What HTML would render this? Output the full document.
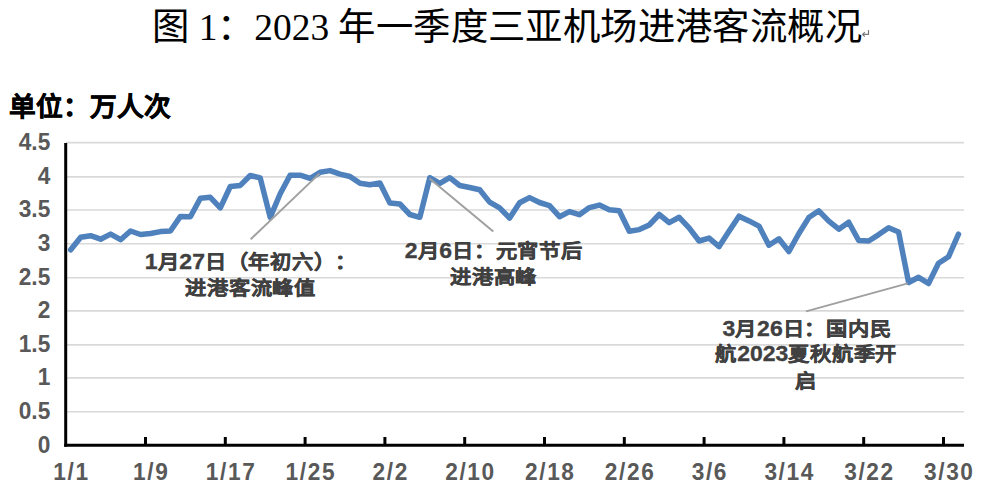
<!DOCTYPE html>
<html lang="zh-CN"><head><meta charset="utf-8">
<style>
html,body{margin:0;padding:0;background:#fff;}
body{width:988px;height:495px;overflow:hidden;position:relative;}
svg{position:absolute;left:0;top:0;}
.title{position:absolute;left:0;top:0;white-space:nowrap;font-family:"Liberation Serif",serif;font-size:37px;color:#000;}
</style></head><body>
<svg width="988" height="495" viewBox="0 0 988 495">
<g stroke="#D9D9D9" stroke-width="1.6"><line x1="66" y1="411.8" x2="964" y2="411.8"/><line x1="66" y1="377.9" x2="964" y2="377.9"/><line x1="66" y1="344.9" x2="964" y2="344.9"/><line x1="66" y1="310.9" x2="964" y2="310.9"/><line x1="66" y1="277.8" x2="964" y2="277.8"/><line x1="66" y1="243.8" x2="964" y2="243.8"/><line x1="66" y1="210.0" x2="964" y2="210.0"/><line x1="66" y1="176.9" x2="964" y2="176.9"/><line x1="66" y1="142.6" x2="964" y2="142.6"/></g>
<polyline points="70.7,249.8 80.7,237.2 90.6,235.7 100.6,239.2 110.6,234.1 120.6,239.7 130.5,231.0 140.5,234.5 150.5,233.5 160.5,231.6 170.4,231.0 180.4,216.4 190.4,216.7 200.4,198.3 210.3,197.3 220.3,207.8 230.3,186.5 240.3,185.4 250.2,175.5 260.2,177.9 270.2,217.4 280.2,193.8 290.1,175.3 300.1,175.2 310.1,178.3 320.1,172.3 330.0,170.6 340.0,174.1 350.0,176.5 360.0,183.3 369.9,184.7 379.9,183.0 389.9,203.1 399.9,204.0 409.8,214.5 419.8,217.3 429.8,177.7 439.8,183.3 449.7,177.7 459.7,185.5 469.7,187.5 479.7,189.8 489.6,202.1 499.6,207.9 509.6,218.1 519.6,202.8 529.5,197.6 539.5,202.5 549.5,205.6 559.5,216.7 569.4,211.6 579.4,214.7 589.4,207.6 599.4,205.1 609.3,209.8 619.3,210.7 629.3,231.3 639.3,229.6 649.2,225.0 659.2,214.5 669.2,222.6 679.2,217.3 689.1,227.8 699.1,241.0 709.1,238.1 719.1,246.6 729.0,231.3 739.0,216.2 749.0,220.9 759.0,226.1 768.9,245.2 778.9,238.8 788.9,251.5 798.9,233.5 808.8,217.6 818.8,210.8 828.8,221.2 838.8,229.2 848.7,222.2 858.7,240.5 868.7,241.0 878.7,234.6 888.6,227.8 898.6,232.0 908.6,282.5 918.6,277.3 928.5,283.5 938.5,263.3 948.5,256.8 958.5,234.2" fill="none" stroke="#4F81BD" stroke-width="5.5" stroke-linejoin="round" stroke-linecap="round"/>
<g stroke="#A0A0A0" stroke-width="2">
<line x1="250.7" y1="239.2" x2="319.4" y2="173.6"/>
<line x1="429.5" y1="178.4" x2="493.3" y2="231.5"/>
<line x1="806" y1="311.4" x2="907.8" y2="283.4"/>
</g>
<g stroke="#000" stroke-width="3">
<line x1="65.7" y1="143" x2="65.7" y2="446.8"/>
<line x1="64.2" y1="445.3" x2="964" y2="445.3"/>
<line x1="145.5" y1="437" x2="145.5" y2="445"/><line x1="225.3" y1="437" x2="225.3" y2="445"/><line x1="305.1" y1="437" x2="305.1" y2="445"/><line x1="384.9" y1="437" x2="384.9" y2="445"/><line x1="464.7" y1="437" x2="464.7" y2="445"/><line x1="544.5" y1="437" x2="544.5" y2="445"/><line x1="624.3" y1="437" x2="624.3" y2="445"/><line x1="704.1" y1="437" x2="704.1" y2="445"/><line x1="783.9" y1="437" x2="783.9" y2="445"/><line x1="863.7" y1="437" x2="863.7" y2="445"/><line x1="943.5" y1="437" x2="943.5" y2="445"/>
</g>
<g font-family="Liberation Sans, sans-serif" font-weight="bold" font-size="24" fill="#595959">
<g text-anchor="end"><text transform="translate(50.3,452.6) scale(0.946,1)">0</text><text transform="translate(50.3,419.1) scale(0.946,1)">0.5</text><text transform="translate(50.3,385.2) scale(0.946,1)">1</text><text transform="translate(50.3,352.2) scale(0.946,1)">1.5</text><text transform="translate(50.3,318.2) scale(0.946,1)">2</text><text transform="translate(50.3,285.1) scale(0.946,1)">2.5</text><text transform="translate(50.3,251.1) scale(0.946,1)">3</text><text transform="translate(50.3,217.3) scale(0.946,1)">3.5</text><text transform="translate(50.3,184.2) scale(0.946,1)">4</text><text transform="translate(50.3,149.9) scale(0.946,1)">4.5</text></g>
<g text-anchor="middle" letter-spacing="1.7"><text transform="translate(71.5,479.8) scale(0.946,1)">1/1</text><text transform="translate(151.3,479.8) scale(0.946,1)">1/9</text><text transform="translate(231.1,479.8) scale(0.946,1)">1/17</text><text transform="translate(310.9,479.8) scale(0.946,1)">1/25</text><text transform="translate(390.7,479.8) scale(0.946,1)">2/2</text><text transform="translate(470.5,479.8) scale(0.946,1)">2/10</text><text transform="translate(550.3,479.8) scale(0.946,1)">2/18</text><text transform="translate(630.1,479.8) scale(0.946,1)">2/26</text><text transform="translate(709.9,479.8) scale(0.946,1)">3/6</text><text transform="translate(789.7,479.8) scale(0.946,1)">3/14</text><text transform="translate(869.5,479.8) scale(0.946,1)">3/22</text><text transform="translate(949.3,479.8) scale(0.946,1)">3/30</text></g>
</g>
<g font-family="Liberation Sans, sans-serif" font-weight="bold" font-size="21.3" fill="#404040" stroke="#404040" stroke-width="0.35" text-anchor="middle" style="text-spacing-trim:space-all">
<text transform="translate(251,268.5) scale(1,0.93)"><tspan font-size="23">1</tspan>月<tspan font-size="23">27</tspan>日（年初六）：</text>
<text transform="translate(250.7,294.5) scale(1,0.93)">进港客流峰值</text>
<text transform="translate(493.7,257.5) scale(1,0.93)"><tspan font-size="23">2</tspan>月<tspan font-size="23">6</tspan>日：元宵节后</text>
<text transform="translate(493.7,283.5) scale(1,0.93)">进港高峰</text>
<text transform="translate(807,335.8) scale(1,0.93)"><tspan font-size="23">3</tspan>月<tspan font-size="23">26</tspan>日：国内民</text>
<text transform="translate(806.2,361) scale(1,0.93)">航<tspan font-size="23">2023</tspan>夏秋航季开</text>
<text transform="translate(806,387.7) scale(1,0.93)">启</text>
</g>
<text x="9" y="116" font-family="Liberation Sans, sans-serif" font-weight="bold" font-size="26.7" fill="#000" stroke="#000" stroke-width="0.5">单位：万人次</text>
<text x="152.3" y="40" font-family="Liberation Serif, serif" font-size="37.4" fill="#000">图 1：2023 <tspan letter-spacing="0.4">年一季度三亚机场进港客流概况</tspan></text>
<g stroke="#7a7a7a" stroke-width="1.2" fill="none"><path d="M868.5,30 V34.4 H862.6 M864.8,32.2 L862.6,34.4 L864.8,36.6"/></g>
</svg>
</body></html>
